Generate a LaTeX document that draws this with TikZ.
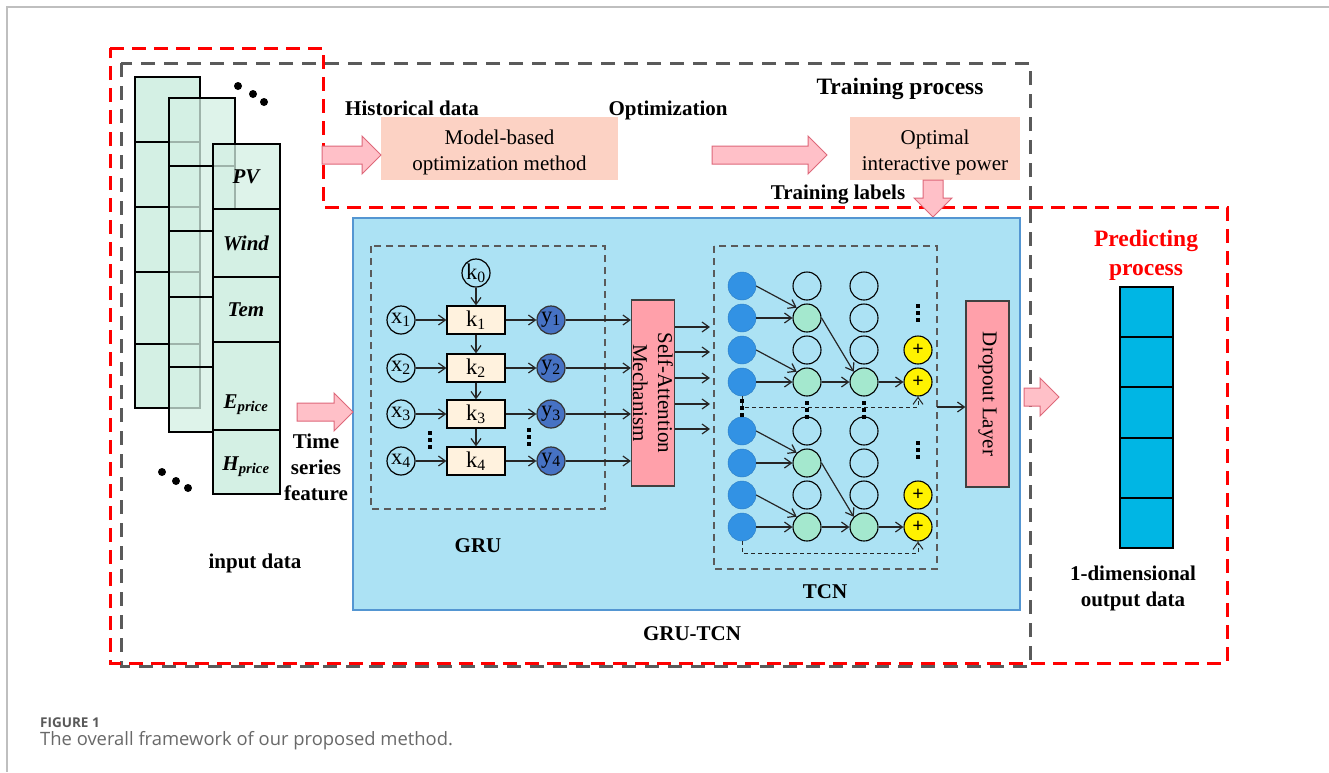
\documentclass[tikz,border=0pt]{standalone}
\usepackage{fontspec}
\setmainfont{Liberation Serif}
\newfontfamily\capfont{Open Sans}
\usetikzlibrary{arrows.meta,calc}

\definecolor{mint}{RGB}{212,240,228}
\definecolor{boxblue}{RGB}{172,226,244}
\definecolor{boxedge}{RGB}{84,150,210}
\definecolor{salmon}{RGB}{252,210,196}
\definecolor{arrowpink}{RGB}{255,192,200}
\definecolor{arrowedge}{RGB}{222,104,122}
\definecolor{attpink}{RGB}{255,160,170}
\definecolor{cream}{RGB}{255,242,222}
\definecolor{ydark}{RGB}{70,114,196}
\definecolor{tcnblue}{RGB}{50,146,228}
\definecolor{tcngreen}{RGB}{164,232,206}
\definecolor{outcyan}{RGB}{0,182,228}
\definecolor{dashgray}{RGB}{90,90,90}
\definecolor{capgray}{RGB}{105,105,105}

% block arrows: tip, length
\newcommand{\harrow}[2]{\draw[bigarrow] (#1) -- ++(-19,-19) -- ++(0,10) -- ++(-#2+19,0) -- ++(0,18) -- ++(#2-19,0) -- ++(0,10) -- cycle;}
\newcommand{\varrow}[2]{\draw[bigarrow] (#1) -- ++(-19,-19) -- ++(9,0) -- ++(0,-#2+19) -- ++(20,0) -- ++(0,#2-19) -- ++(9,0) -- cycle;}
% three square dots
\newcommand{\sqdots}[2]{\foreach \dd in {-7,0,7}{\fill (#1-1.8,#2+\dd-1.8) rectangle ++(3.6,3.6);}}

\tikzset{
  every node/.style={font=\fontsize{21}{25}\selectfont, inner sep=0pt},
  lbl/.style={font=\fontsize{21}{26}\selectfont\bfseries},
  stacklbl/.style={font=\fontsize{21}{25}\selectfont\bfseries\itshape},
  arr/.style={-{Straight Barb[length=7pt,width=10pt]}, line width=1.2pt, draw=black!85},
  xnode/.style={circle, draw, line width=1.2pt, minimum size=28pt, font=\fontsize{22.5}{25}\selectfont},
  ynode/.style={circle, draw=black!80, fill=ydark, line width=1.2pt, minimum size=28pt, font=\fontsize{22.5}{25}\selectfont},
  kbox/.style={rectangle, draw, fill=cream, line width=1.2pt, minimum width=58pt, minimum height=28pt, font=\fontsize{22.5}{25}\selectfont},
  tin/.style={circle, fill=tcnblue, draw=tcnblue!85!black, minimum size=28pt},
  tgreen/.style={circle, fill=tcngreen, draw, line width=1.1pt, minimum size=28pt},
  tempty/.style={circle, draw, line width=1.1pt, minimum size=28pt},
  tsum/.style={circle, fill=yellow, draw, line width=1.1pt, minimum size=28pt, font=\fontsize{20}{20}\selectfont\bfseries},
  layerbox/.style={rectangle, draw=black!75, fill=attpink, line width=1.2pt, minimum width=43pt, minimum height=186pt},
  bigarrow/.style={fill=arrowpink, draw=arrowedge, line width=1pt},
  reddash/.style={draw=red, line width=3pt, dash pattern=on 14pt off 8pt},
  graydash/.style={draw=dashgray, line width=3pt, dash pattern=on 14pt off 9pt},
  innerdash/.style={draw=dashgray, line width=1.5pt, dash pattern=on 7pt off 5pt},
}

\begin{document}
\begin{tikzpicture}[x=1pt,y=-1pt]
\useasboundingbox[fill=white] (0,0) rectangle (1329,772);
\draw[black!25, line width=1.5pt] (1329,7) -- (7,7) -- (7,772);

% process frames
\draw[graydash] (121,63) rectangle (1030,666);
\draw[reddash] (110,48) -- (323,48) -- (323,207) -- (1227,207) -- (1227,663) -- (110,663) -- cycle;

% input data stacks
\draw[fill=mint, line width=1.4pt] (135,77) rectangle (200,408);
\foreach \yy in {142,207,272,344} \draw[line width=1.4pt] (135,\yy) -- (200,\yy);
\draw[fill=mint, fill opacity=0.75, line width=1.4pt] (169,98) rectangle (235,432);
\foreach \yy in {166,231,297,367} \draw[line width=1.4pt] (169,\yy) -- (235,\yy);
\draw[fill=mint, fill opacity=0.75, line width=1.4pt] (213,144) rectangle (280,209);
\foreach \ya/\yb in {209/277,277/342,342/430,430/494} \draw[fill=mint, line width=1.4pt] (213,\ya) rectangle (280,\yb);
\node[stacklbl] (pv) at (246,177) {PV};
\node[stacklbl] (wind) at (246,243) {Wind};
\node[stacklbl] (tem) at (246,310) {Tem};
\node[stacklbl] (eprice) at (246,405) {E\textsubscript{price}};
\node[stacklbl] (hprice) at (246,467) {H\textsubscript{price}};
\foreach \dx/\dy in {238/86,253/94,264/102,162/472,176/481,188/488} \fill (\dx,\dy) circle (4pt);
\node[lbl] (inlbl) at (255,563) {input data};
\node[lbl, align=center] (tsf) at (316,467) {Time\\series\\feature};

% training process
\node[lbl, font=\fontsize{23.5}{26}\selectfont\bfseries] (trainlbl) at (900,89) {Training process};
\node[lbl] (histlbl) at (412,108) {Historical data};
\node[lbl] (optlbl) at (668,110) {Optimization};
\node[fill=salmon, minimum width=237pt, minimum height=63pt] (model) at (499.5,148.5) {};
\node[align=center, font=\fontsize{21}{26}\selectfont] (modeltxt) at (499.5,152) {Model-based\\optimization method};
\node[fill=salmon, minimum width=170pt, minimum height=63pt] (optpow) at (935,148.5) {};
\node[align=center, font=\fontsize{21}{26}\selectfont] (optpowtxt) at (935,152) {Optimal\\interactive power};
\node[lbl] (labellbl) at (838,195) {Training labels};
\coordinate (histtip) at (381,155);
\coordinate (opttip) at (827,155);
\coordinate (labeltip) at (933,217);
\harrow{histtip}{59}
\harrow{opttip}{115}
\varrow{labeltip}{37}

% GRU-TCN block
\draw[fill=boxblue, draw=boxedge, line width=1.2pt] (353,218) rectangle (1020,610);
\coordinate (tsftip) at (353,412);
\harrow{tsftip}{56}
\node[lbl] (grutcnlbl) at (692,634) {GRU-TCN};

% GRU
\draw[innerdash] (371,246) rectangle (605,509);
\node[lbl] (grulbl) at (478,546) {GRU};
\node[layerbox] (att) at (653,393) {};
\node[rotate=-90, align=center] (attlbl) at (att) {Self-Attention\\Mechanism};
\node[xnode] (k0) at (476,273) {k\textsubscript{0}};
\foreach \i/\yy in {1/320,2/368,3/414,4/461}{
  \node[xnode] (x\i) at (401,\yy) {x\textsubscript{\i}};
  \node[kbox] (k\i) at (476,\yy) {k\textsubscript{\i}};
  \node[ynode] (y\i) at (551,\yy) {y\textsubscript{\i}};
  \draw[arr] (x\i) -- (k\i);
  \draw[arr] (k\i) -- (y\i);
  \draw[arr] (y\i) -- (y\i -| att.west);
}
\foreach \p/\q in {k0/k1,k1/k2,k2/k3,k3/k4} \draw[arr] (\p) -- (\q);
\sqdots{430}{440}
\sqdots{529}{437}

% TCN
\draw[innerdash] (714,246) rectangle (937,569);
\node[lbl] (tcnlbl) at (825,592) {TCN};
\foreach \i/\yy in {1/327,2/352,3/378,4/404,5/429}{
  \coordinate (tin\i) at (710,\yy);
  \draw[arr] (att.east |- tin\i) -- (tin\i);
}
\foreach \r/\yy in {1/286,2/318,3/350,4/382,5/431,6/463,7/495,8/527} \node[tin] (a\r) at (742,\yy) {};
\foreach \r/\yy in {1/286,3/350,5/431,7/495} \node[tempty] (b\r) at (807,\yy) {};
\foreach \r/\yy in {2/318,4/382,6/463,8/527} \node[tgreen] (b\r) at (807,\yy) {};
\foreach \r/\yy in {1/286,2/318,3/350,5/431,6/463,7/495} \node[tempty] (c\r) at (864,\yy) {};
\foreach \r/\yy in {4/382,8/527} \node[tgreen] (c\r) at (864,\yy) {};
\foreach \r/\yy in {3/350,4/382,7/495,8/527} \node[tsum] (d\r) at (918,\yy) {+};
\foreach \p/\q in {a1/b2,a3/b4,b2/c4,a5/b6,a7/b8,b6/c8} \draw[arr] (\p.east) -- (\q.north west);
\foreach \p/\q in {a2/b2,a4/b4,b4/c4,c4/d4,a6/b6,a8/b8,b8/c8,c8/d8} \draw[arr] (\p) -- (\q);
\draw[arr, line width=1pt, dash pattern=on 4pt off 3pt] (a4.south) -- ++(0,11) -| (d4.south);
\draw[arr, line width=1pt, dash pattern=on 4pt off 3pt] (a8.south) -- ++(0,12) -| (d8.south);
\sqdots{742}{408}
\sqdots{807}{410}
\sqdots{864}{410}
\sqdots{918}{313}
\sqdots{918}{450}

% dropout and output
\node[layerbox] (drop) at (987.5,394) {};
\node[rotate=-90] (droplbl) at (drop) {Dropout Layer};
\coordinate (tcnout) at (937,407);
\draw[arr] (tcnout) -- (tcnout -| drop.west);
\coordinate (predtip) at (1059,397);
\harrow{predtip}{35}
\node[lbl, text=red, align=center, font=\fontsize{23.5}{29}\selectfont\bfseries] (predlbl) at (1146,255) {Predicting\\process};
\draw[fill=outcyan, line width=2pt] (1120,287) rectangle (1173,548);
\foreach \yy in {337,387,438,498} \draw[line width=2pt] (1120,\yy) -- (1173,\yy);
\node[lbl, align=center] (outlbl) at (1133,588) {1-dimensional\\output data};

% caption
\node[anchor=west, text=capgray!85!black, font=\capfont\fontsize{13.5}{16}\selectfont\bfseries] (figno) at (40,723) {FIGURE 1};
\node[anchor=west, text=capgray, font=\capfont\fontsize{18.4}{20}\selectfont] (figcap) at (40,741) {The overall framework of our proposed method.};
\end{tikzpicture}
\end{document}
